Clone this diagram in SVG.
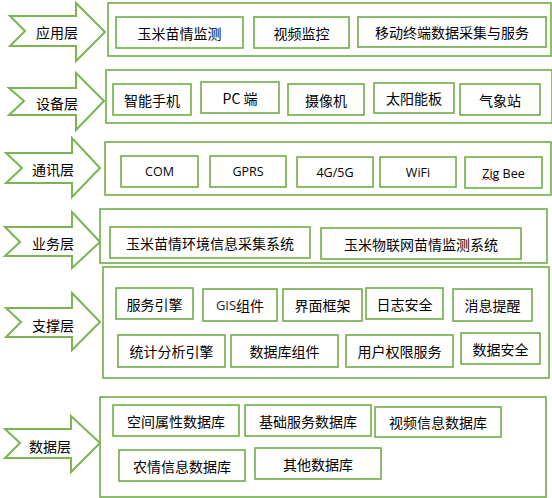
<svg xmlns="http://www.w3.org/2000/svg" width="552" height="498" viewBox="0 0 552 498">
<style>
.arrow{fill:#fff;stroke:#7ab552;stroke-width:2;stroke-linejoin:miter}
.cont{fill:#fff;stroke:#70ad47;stroke-width:1.6}
.box{fill:#fff;stroke:#70ad47;stroke-width:1.6}
text{font-family:"Noto Sans CJK SC","Liberation Sans",sans-serif;font-size:14px;fill:#000;text-anchor:middle;dominant-baseline:central}
.en{font-family:"Open Sans","Liberation Sans",sans-serif;font-size:12.5px}
</style>
<rect width="552" height="498" fill="#fff"/>
<g id="layer-app">
<polygon class="arrow" points="10,16 76,16 76,3 105,32 76,61 76,46 10,46 25,31"/>
<text x="57" y="32">应用层</text>
<rect class="cont" x="108" y="3" width="443" height="53"/>
<g id="n-app1"><rect class="box" x="116" y="17" width="127" height="31"/><text x="179.5" y="32.5">玉米苗情监测</text></g>
<g id="n-app2"><rect class="box" x="254" y="17" width="95" height="31"/><text x="301.5" y="32.5">视频监控</text></g>
<g id="n-app3"><rect class="box" x="358" y="17" width="188" height="30"/><text x="452" y="32">移动终端数据采集与服务</text></g>
</g>
<g id="layer-dev">
<polygon class="arrow" points="9,88 76,88 76,73 104,101 76,130 76,115 9,115 24,101"/>
<text x="57" y="103">设备层</text>
<rect class="cont" x="106" y="70" width="446" height="53"/>
<g id="n-dev1"><rect class="box" x="113" y="84" width="78" height="31"/><text x="152" y="99.5">智能手机</text></g>
<g id="n-dev2"><rect class="box" x="201" y="82" width="78" height="31"/><text x="240" y="97.5">PC 端</text></g>
<g id="n-dev3"><rect class="box" x="288" y="84" width="76" height="31"/><text x="326" y="99.5">摄像机</text></g>
<g id="n-dev4"><rect class="box" x="374" y="83" width="80" height="30"/><text x="414" y="98">太阳能板</text></g>
<g id="n-dev5"><rect class="box" x="460" y="84" width="80" height="31"/><text x="500" y="99.5">气象站</text></g>
</g>
<g id="layer-com">
<polygon class="arrow" points="6,153 72,153 72,138 100,168 72,197 72,183 6,183 22,168"/>
<text x="53" y="169">通讯层</text>
<rect class="cont" x="105" y="142" width="446" height="53"/>
<g id="n-com1"><rect class="box" x="121" y="156" width="77" height="31"/><text class="en" x="159.5" y="171.5">COM</text></g>
<g id="n-com2"><rect class="box" x="210" y="156" width="76" height="31"/><text class="en" x="248" y="171.5">GPRS</text></g>
<g id="n-com3"><rect class="box" x="297" y="157" width="76" height="30"/><text class="en" x="335" y="172">4G/5G</text></g>
<g id="n-com4"><rect class="box" x="380" y="157" width="76" height="30"/><text class="en" x="418" y="172">WiFi</text></g>
<g id="n-com5"><rect class="box" x="465" y="157" width="77" height="31"/><text class="en" x="503.5" y="173">Zig Bee</text>
<path d="M482,180 l2,-2 l2,2 l2,-2 l2,2 l2,-2 l2,2 l2,-2 l2,2" fill="none" stroke="#e03030" stroke-width="0.9"/></g>
</g>
<g id="layer-biz">
<polygon class="arrow" points="5,227 72,227 72,212 100,242 72,268 72,256 5,256 20,242"/>
<text x="53" y="243">业务层</text>
<rect class="cont" x="100" y="209" width="447" height="54"/>
<g id="n-biz1"><rect class="box" x="110" y="227" width="200" height="31"/><text x="210" y="242.5">玉米苗情环境信息采集系统</text></g>
<g id="n-biz2"><rect class="box" x="321" y="228" width="200" height="31"/><text x="421" y="243.5">玉米物联网苗情监测系统</text></g>
</g>
<g id="layer-sup">
<polygon class="arrow" points="6,308 72,308 72,293 100,322 72,350 72,337 6,337 21,322"/>
<text x="53" y="325">支撑层</text>
<rect class="cont" x="103" y="267" width="446" height="111"/>
<g id="n-sup1"><rect class="box" x="116" y="288" width="77" height="31"/><text x="154.5" y="303.5">服务引擎</text></g>
<g id="n-sup2"><rect class="box" x="203" y="289" width="74" height="32"/><text x="240" y="305"><tspan class="en" style="font-size:13px;fill:#1a1a2e">GIS</tspan>组件</text></g>
<g id="n-sup3"><rect class="box" x="283" y="289" width="79" height="32"/><text x="322.5" y="305">界面框架</text></g>
<g id="n-sup4"><rect class="box" x="366" y="288" width="77" height="31"/><text x="404.5" y="303.5">日志安全</text></g>
<g id="n-sup5"><rect class="box" x="453" y="289" width="79" height="32"/><text x="492.5" y="305">消息提醒</text></g>
<g id="n-sup6"><rect class="box" x="118" y="335" width="107" height="32"/><text x="171.5" y="351">统计分析引擎</text></g>
<g id="n-sup7"><rect class="box" x="231" y="335" width="107" height="32"/><text x="284.5" y="351">数据库组件</text></g>
<g id="n-sup8"><rect class="box" x="346" y="335" width="107" height="32"/><text x="399.5" y="351">用户权限服务</text></g>
<g id="n-sup9"><rect class="box" x="461" y="333" width="79" height="31"/><text x="500.5" y="348.5">数据安全</text></g>
</g>
<g id="layer-data">
<polygon class="arrow" points="5,429 71,429 71,416 100,443 71,472 71,458 5,458 20,443"/>
<text x="50" y="446">数据层</text>
<rect class="cont" x="100" y="397" width="446" height="100"/>
<g id="n-data1"><rect class="box" x="113" y="405" width="126" height="31"/><text x="176" y="420.5">空间属性数据库</text></g>
<g id="n-data2"><rect class="box" x="245" y="405" width="126" height="31"/><text x="308" y="420.5">基础服务数据库</text></g>
<g id="n-data3"><rect class="box" x="375" y="407" width="126" height="30"/><text x="438" y="422">视频信息数据库</text></g>
<g id="n-data4"><rect class="box" x="119" y="450" width="126" height="31"/><text x="182" y="465.5">农情信息数据库</text></g>
<g id="n-data5"><rect class="box" x="255" y="448" width="126" height="31"/><text x="318" y="463.5">其他数据库</text></g>
</g>
<g id="connectors"></g>
</svg>
